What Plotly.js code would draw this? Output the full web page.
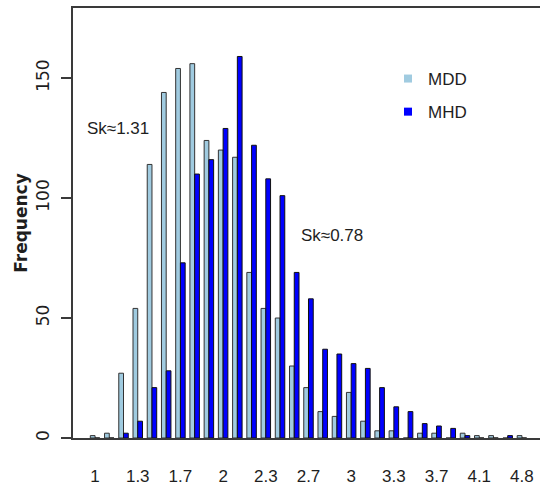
<!DOCTYPE html>
<html>
<head>
<meta charset="utf-8">
<script src="https://cdn.plot.ly/plotly-3.0.1.min.js"></script>
<style>
  html, body { margin: 0; padding: 0; background: #fff; }
  #chart { width: 540px; height: 486px; }
</style>
</head>
<body>
<div id="chart"></div>
<script>
// Categories (value bins); only every third one is labelled on the axis
const categories = ["1","1.1","1.2","1.3","1.4","1.6","1.7","1.8","1.9","2",
                    "2.1","2.2","2.3","2.4","2.6","2.7","2.8","2.9","3","3.1",
                    "3.2","3.3","3.4","3.6","3.7","3.8","4","4.1","4.2","4.4","4.8"];
const tickLabels = ["1","1.3","1.7","2","2.3","2.7","3","3.3","3.7","4.1","4.8"];

const mddValues = [1,2,27,54,114,144,154,156,124,120,
                   117,69,54,50,30,21,11,9,19,7,
                   3,3,0,2,2,0,2,1,1,0,1];
const mhdValues = [0,0,2,7,21,28,73,110,116,129,
                   159,122,108,101,69,58,37,35,31,29,
                   21,13,11,6,5,4,1,0,0,1,0];

const seriesNames = ["MDD","MHD"];
const seriesColors = ["#a0cbe0","#0000ff"];
const skewTexts = ["Sk\u22481.31","Sk\u22480.78"];

const sans = "'Liberation Sans', Arial, sans-serif";
const wide = "'DejaVu Sans', Verdana, sans-serif";
const textColor = "#1e1e1e";

const traces = [
  {
    type: "bar", x: categories, y: mddValues, name: seriesNames[0],
    marker: { color: seriesColors[0], line: { color: "#333", width: 1 } },
    showlegend: false, hoverinfo: "x+y+name"
  },
  {
    type: "bar", x: categories, y: mhdValues, name: seriesNames[1],
    marker: { color: seriesColors[1], line: { color: "#111", width: 1 } },
    showlegend: false, hoverinfo: "x+y+name"
  },
  // legend-only entries (plain squares, no outline)
  {
    type: "scatter", mode: "markers", x: [null], y: [null], name: seriesNames[0],
    legendgroup: "a",
    marker: { symbol: "square", size: 8, color: seriesColors[0] }
  },
  {
    type: "scatter", mode: "markers", x: [null], y: [null], name: seriesNames[1],
    legendgroup: "b",
    marker: { symbol: "square", size: 8, color: seriesColors[1] }
  }
];

const layout = {
  width: 540, height: 486,
  margin: { l: 73, r: 0, t: 8, b: 48 },
  paper_bgcolor: "#fff", plot_bgcolor: "#fff",
  barmode: "group", bargap: 1/3, bargroupgap: 0,
  font: { family: sans, color: textColor },
  xaxis: {
    type: "category",
    categoryorder: "array", categoryarray: categories,
    range: [-1.55, 31.27],
    tickmode: "array", tickvals: tickLabels, ticktext: tickLabels,
    ticks: "", showgrid: false, zeroline: false,
    showline: true, mirror: true, linecolor: "#3a3a3a", linewidth: 1.6,
    tickfont: { family: sans, size: 17, color: textColor },
    ticklabelstandoff: 22,
    fixedrange: true
  },
  yaxis: {
    range: [0, 179.2],
    tickmode: "array", tickvals: [0,50,100,150],
    ticks: "outside", ticklen: 10, tickwidth: 1.4, tickcolor: "#3a3a3a",
    tickangle: -90,
    tickfont: { family: wide, size: 17, color: textColor },
    ticklabelstandoff: 6,
    showgrid: false, zeroline: false,
    showline: true, linecolor: "#3a3a3a", linewidth: 1.6,
    title: { text: "<b>Frequency</b>", font: { family: wide, size: 17, color: textColor }, standoff: 0 },
    fixedrange: true
  },
  legend: {
    x: (388 - 73) / 467, xanchor: "left",
    y: (438 - 61) / 430, yanchor: "top",
    bgcolor: "rgba(0,0,0,0)", borderwidth: 0,
    font: { family: sans, size: 17, color: textColor },
    tracegroupgap: 8, itemwidth: 30
  },
  shapes: [
    { type: "line", xref: "paper", yref: "paper",
      x0: -10/467, x1: 0, y0: 0, y1: 0,
      line: { color: "#3a3a3a", width: 1.6 } }
  ],
  annotations: [
    { xref: "paper", yref: "paper", x: (118 - 73) / 467, y: (438 - 128) / 430,
      text: skewTexts[0], showarrow: false, xanchor: "center", yanchor: "middle",
      font: { family: sans, size: 17, color: textColor } },
    { xref: "paper", yref: "paper", x: (332 - 73) / 467, y: (438 - 235) / 430,
      text: skewTexts[1], showarrow: false, xanchor: "center", yanchor: "middle",
      font: { family: sans, size: 17, color: textColor } }
  ]
};

Plotly.newPlot("chart", traces, layout, { displayModeBar: false, staticPlot: true });
</script>
</body>
</html>
